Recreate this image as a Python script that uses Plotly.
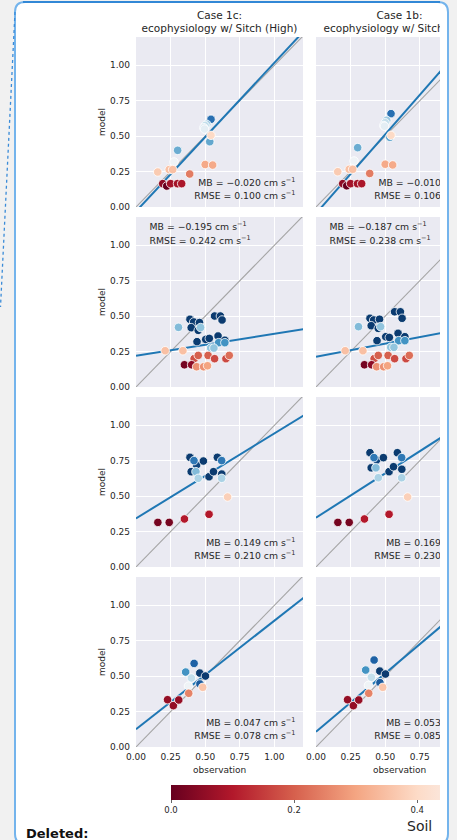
import plotly.graph_objects as go

W, H = 457, 840


def fx(p):
    return p / W


def fy(p):
    return 1 - p / H


# ---------------- data ----------------
# Row 1
obs_r1 = [0.542, 0.511, 0.500, 0.490, 0.495, 0.533, 0.542, 0.301, 0.275, 0.240,
          0.265, 0.157, 0.388, 0.500, 0.554, 0.193, 0.222, 0.250, 0.300, 0.330]
soil_r1 = [0.88, 0.68, 0.62, 0.58, 0.55, 0.76, 0.40, 0.75, 0.52, 0.35,
           0.35, 0.37, 0.24, 0.31, 0.31, 0.05, 0.00, 0.08, 0.08, 0.09]
model_1c_r1 = [0.619, 0.584, 0.575, 0.560, 0.550, 0.461, 0.506, 0.400, 0.318, 0.264,
               0.264, 0.247, 0.233, 0.300, 0.296, 0.165, 0.148, 0.165, 0.165, 0.165]
model_1b_r1 = [0.659, 0.612, 0.595, 0.575, 0.570, 0.492, 0.506, 0.419, 0.325, 0.266,
               0.266, 0.249, 0.237, 0.302, 0.297, 0.165, 0.150, 0.165, 0.165, 0.165]

# Row 2
obs_r2 = [0.390, 0.417, 0.459, 0.399, 0.450, 0.568, 0.610, 0.622, 0.441, 0.504,
          0.530, 0.593, 0.642, 0.307, 0.467, 0.597, 0.642, 0.540, 0.563, 0.211,
          0.339, 0.420, 0.450, 0.521, 0.568, 0.650, 0.674, 0.350, 0.402, 0.438,
          0.489, 0.517]
soil_r2 = [0.98, 0.98, 0.98, 0.98, 0.98, 0.98, 0.98, 0.98, 0.98, 0.98,
           0.98, 0.98, 0.98, 0.72, 0.70, 0.80, 0.80, 0.70, 0.70, 0.35,
           0.35, 0.18, 0.20, 0.20, 0.17, 0.17, 0.22, 0.02, 0.05, 0.27,
           0.27, 0.30]
model_1c_r2 = [0.478, 0.459, 0.455, 0.419, 0.400, 0.501, 0.501, 0.473, 0.320, 0.336,
               0.343, 0.360, 0.330, 0.421, 0.420, 0.313, 0.313, 0.275, 0.275, 0.256,
               0.256, 0.200, 0.223, 0.223, 0.200, 0.200, 0.223, 0.157, 0.157, 0.143,
               0.143, 0.150]
model_1b_r2 = [0.485, 0.473, 0.478, 0.433, 0.414, 0.531, 0.531, 0.485, 0.327, 0.355,
               0.350, 0.379, 0.355, 0.426, 0.426, 0.327, 0.327, 0.280, 0.280, 0.256,
               0.256, 0.200, 0.223, 0.223, 0.200, 0.200, 0.223, 0.157, 0.157, 0.143,
               0.143, 0.150]

# Row 3
obs_r3 = [0.390, 0.399, 0.438, 0.487, 0.528, 0.560, 0.588, 0.620, 0.419, 0.619,
          0.433, 0.450, 0.619, 0.662, 0.528, 0.350, 0.158, 0.240]
soil_r3 = [0.98, 0.98, 0.96, 0.98, 0.98, 0.98, 0.98, 0.98, 0.86, 0.86,
           0.72, 0.66, 0.66, 0.38, 0.10, 0.10, 0.02, 0.02]
model_1c_r3 = [0.774, 0.673, 0.720, 0.748, 0.637, 0.673, 0.774, 0.656, 0.751, 0.751,
               0.673, 0.626, 0.626, 0.494, 0.372, 0.339, 0.315, 0.315]
model_1b_r3 = [0.807, 0.700, 0.755, 0.772, 0.673, 0.708, 0.807, 0.690, 0.772, 0.772,
               0.700, 0.630, 0.630, 0.494, 0.372, 0.339, 0.315, 0.315]

# Row 4
obs_r4 = [0.420, 0.359, 0.461, 0.502, 0.462, 0.400, 0.379, 0.482, 0.381, 0.228,
          0.270, 0.309]
soil_r4 = [0.91, 0.80, 0.98, 0.98, 0.92, 0.62, 0.52, 0.36, 0.25, 0.06,
           0.06, 0.06]
model_1c_r4 = [0.590, 0.529, 0.522, 0.501, 0.445, 0.487, 0.430, 0.421, 0.379, 0.334,
               0.292, 0.332]
model_1b_r4 = [0.614, 0.543, 0.536, 0.515, 0.454, 0.492, 0.435, 0.421, 0.379, 0.334,
               0.292, 0.332]

# Linear fits (slope, intercept) per row
fit_1c = [(1.049, -0.031), (0.154, 0.221), (0.600, 0.343), (0.767, 0.125)]
fit_1b = [(1.117, -0.046), (0.185, 0.214), (0.626, 0.348), (0.824, 0.108)]

# Error statistics per row [cm s-1]
mb_1c = [-0.020, -0.195, 0.149, 0.047]
rmse_1c = [0.100, 0.242, 0.210, 0.078]
mb_1b = [-0.010, -0.187, 0.169, 0.053]
rmse_1b = [0.106, 0.238, 0.230, 0.085]

case_titles = [("Case 1c:", "ecophysiology w/ Sitch (High)"),
               ("Case 1b:", "ecophysiology w/ Sitch")]
x_ticks = [0.0, 0.25, 0.5, 0.75, 1.0]
y_ticks = [0.0, 0.25, 0.5, 0.75, 1.0]
cbar_ticks = [0.0, 0.2, 0.4]

# matplotlib RdBu colormap stops
RDBU = ["#67001f", "#b2182b", "#d6604d", "#f4a582", "#fddbc7", "#f7f7f7",
        "#d1e5f0", "#92c5de", "#4393c3", "#2166ac", "#053061"]
rdbu_scale = [[i / 10, c] for i, c in enumerate(RDBU)]

# Portion of the soil scale shown on the bar
SOIL_BAR_MAX = 0.437
bar_scale = [[0.0, RDBU[0]], [0.1 / SOIL_BAR_MAX, RDBU[1]], [0.2 / SOIL_BAR_MAX, RDBU[2]],
             [0.3 / SOIL_BAR_MAX, RDBU[3]], [0.4 / SOIL_BAR_MAX, RDBU[4]],
             [1.0, "rgb(251,229,217)"]]

rows = [
    (obs_r1, soil_r1, model_1c_r1, model_1b_r1, "br"),
    (obs_r2, soil_r2, model_1c_r2, model_1b_r2, "tl"),
    (obs_r3, soil_r3, model_1c_r3, model_1b_r3, "br"),
    (obs_r4, soil_r4, model_1c_r4, model_1b_r4, "br"),
]

# ---------------- geometry (pixels) ----------------
col_px = [(136, 303), (316, 440)]
col_xmax = [1.207, 0.896]
row_top = [37, 217, 397, 577]
row_h = 170
YMAX = 1.2

FONT = "DejaVu Sans"
TXT = "#262626"

fig = go.Figure()
layout = {}
shapes = []
annotations = []


def fmt(v):
    return f"{v:.3f}".replace("-", "\u2212")


def note(text, x, y, size, **kw):
    d = dict(text=text, x=fx(x), y=fy(y), xref="paper", yref="paper", showarrow=False,
             xanchor="center", yanchor="middle",
             font=dict(family=FONT, size=size, color=TXT))
    d.update(kw)
    return d


for r, (obs, soil, m1c, m1b, spot) in enumerate(rows):
    for c in range(2):
        k = r * 2 + c + 1
        xn = "xaxis" if k == 1 else f"xaxis{k}"
        yn = "yaxis" if k == 1 else f"yaxis{k}"
        xr = "x" if k == 1 else f"x{k}"
        yr = "y" if k == 1 else f"y{k}"
        x0, x1 = col_px[c]
        top = row_top[r]
        layout[xn] = dict(domain=[fx(x0), fx(x1)], range=[0, col_xmax[c]], anchor=yr,
                          tickvals=x_ticks, tickformat=".2f", showgrid=True,
                          gridcolor="white", gridwidth=1.2, zeroline=False, showline=False,
                          ticks="", showticklabels=(r == 3), ticklabelstandoff=3,
                          tickfont=dict(family=FONT, size=9, color=TXT))
        layout[yn] = dict(domain=[fy(top + row_h), fy(top)], range=[0, YMAX], anchor=xr,
                          tickvals=y_ticks, tickformat=".2f", showgrid=True,
                          gridcolor="white", gridwidth=1.2, zeroline=False, showline=False,
                          ticks="", showticklabels=(c == 0), ticklabelstandoff=5,
                          tickfont=dict(family=FONT, size=9, color=TXT))
        shapes.append(dict(type="rect", xref=f"{xr} domain", yref=f"{yr} domain",
                           x0=0, x1=1, y0=0, y1=1, fillcolor="#eaeaf2",
                           line=dict(width=0), layer="below"))

        model = m1c if c == 0 else m1b
        slope, icpt = (fit_1c if c == 0 else fit_1b)[r]
        mb = (mb_1c if c == 0 else mb_1b)[r]
        rmse = (rmse_1c if c == 0 else rmse_1b)[r]
        xe = 1.3
        fig.add_trace(go.Scatter(x=[0, xe], y=[0, xe], mode="lines",
                                 line=dict(color="#a5a5a5", width=1.1),
                                 xaxis=xr, yaxis=yr, hoverinfo="skip"))
        fig.add_trace(go.Scatter(x=[0, xe], y=[icpt, icpt + slope * xe], mode="lines",
                                 line=dict(color="#1f77b4", width=2),
                                 xaxis=xr, yaxis=yr, hoverinfo="skip"))
        fig.add_trace(go.Scatter(x=obs, y=model, mode="markers",
                                 marker=dict(size=8.5, color=soil, coloraxis="coloraxis",
                                             line=dict(color="white", width=0.8)),
                                 xaxis=xr, yaxis=yr))
        labels = [f"MB = {fmt(mb)} cm s<sup>\u22121</sup>",
                  f"RMSE = {fmt(rmse)} cm s<sup>\u22121</sup>"]
        if spot == "br":
            tx, ty, tpos = 1.152, [0.168, 0.072], "middle left"
        else:
            tx, ty, tpos = 0.098, [1.122, 1.023], "middle right"
        fig.add_trace(go.Scatter(x=[tx, tx], y=ty, mode="text", text=labels,
                                 textposition=tpos, cliponaxis=True,
                                 textfont=dict(family=FONT, size=9.3, color=TXT),
                                 xaxis=xr, yaxis=yr, hoverinfo="skip"))

    annotations.append(note("model", 102, row_top[r] + row_h / 2, 9, textangle=-90))

# Overlay frame in page pixels, clipped at the right edge of the content area
layout["xaxis9"] = dict(domain=[0, fx(440)], range=[0, 440], anchor="y9", visible=False,
                        fixedrange=True)
layout["yaxis9"] = dict(domain=[0, 1], range=[H, 0], anchor="x9", visible=False,
                        fixedrange=True)

for c, (l1, l2) in enumerate(case_titles):
    x0, _ = col_px[c]
    cx = x0 + 83.5
    fig.add_trace(go.Scatter(x=[cx], y=[16], mode="text", text=[l1], textposition="middle center",
                             textfont=dict(family=FONT, size=10.5, color=TXT),
                             xaxis="x9", yaxis="y9", cliponaxis=True, hoverinfo="skip"))
    if c == 0:
        fig.add_trace(go.Scatter(x=[cx], y=[29], mode="text", text=[l2],
                                 textposition="middle center",
                                 textfont=dict(family=FONT, size=10.5, color=TXT),
                                 xaxis="x9", yaxis="y9", cliponaxis=True, hoverinfo="skip"))
    else:
        fig.add_trace(go.Scatter(x=[cx - 76], y=[29], mode="text", text=[l2],
                                 textposition="middle right",
                                 textfont=dict(family=FONT, size=10.5, color=TXT),
                                 xaxis="x9", yaxis="y9", cliponaxis=True, hoverinfo="skip"))
    annotations.append(note("observation", cx, 770, 9))

# Carrier for the soil colour bar
fig.add_trace(go.Scatter(x=[None], y=[None], mode="markers",
                         marker=dict(color=[0], coloraxis="coloraxis2"),
                         xaxis="x9", yaxis="y9", hoverinfo="skip"))

annotations.append(note("Soil", 434, 826, 14, xanchor="right"))
annotations.append(note("<b>Deleted:</b>", 24, 833, 13, xanchor="left",
                        font=dict(family=FONT, size=13, color="#111111")))

# Card frame and margin marker
L, R, T, B, rad = 15, 448, 2, 844, 10
card = (f"M {fx(L)},{fy(T + rad)} Q {fx(L)},{fy(T)} {fx(L + rad)},{fy(T)} "
        f"L {fx(R - rad)},{fy(T)} Q {fx(R)},{fy(T)} {fx(R)},{fy(T + rad)} "
        f"L {fx(R)},{fy(B - rad)} Q {fx(R)},{fy(B)} {fx(R - rad)},{fy(B)} "
        f"L {fx(L + rad)},{fy(B)} Q {fx(L)},{fy(B)} {fx(L)},{fy(B - rad)} Z")
shapes.insert(0, dict(type="path", path=card, xref="paper", yref="paper",
                      fillcolor="white", line=dict(color="#74b4ec", width=2), layer="below"))
shapes.insert(1, dict(type="line", xref="paper", yref="paper", x0=fx(L + rad - 2), y0=fy(T),
                      x1=fx(R - rad + 2), y1=fy(T), line=dict(color="#3288d6", width=2),
                      layer="below"))
shapes.insert(2, dict(type="line", xref="paper", yref="paper", x0=fx(15), y0=fy(12),
                      x1=fx(0.5), y1=fy(307), line=dict(color="#3a8bd8", width=1.3, dash="dot"),
                      layer="below"))

fig.update_layout(
    width=W, height=H, margin=dict(l=0, r=0, t=0, b=0, autoexpand=False),
    paper_bgcolor="#f1f1f1", plot_bgcolor="rgba(0,0,0,0)",
    showlegend=False, shapes=shapes, annotations=annotations,
    coloraxis=dict(colorscale=rdbu_scale, cmin=0, cmax=1, showscale=False),
    coloraxis2=dict(colorscale=bar_scale, cmin=0, cmax=SOIL_BAR_MAX,
                    colorbar=dict(orientation="h", x=fx(171), xanchor="left",
                                  y=fy(785), yanchor="top", len=269, lenmode="pixels",
                                  thickness=15, thicknessmode="pixels", xpad=0, ypad=0,
                                  outlinewidth=0, tickvals=cbar_ticks,
                                  ticktext=[f"{v:.1f}" for v in cbar_ticks],
                                  ticks="outside", ticklen=3, tickcolor="#666",
                                  tickfont=dict(family=FONT, size=8.5, color=TXT))),
    font=dict(family=FONT),
    **layout,
)

fig.write_html("out.html")
